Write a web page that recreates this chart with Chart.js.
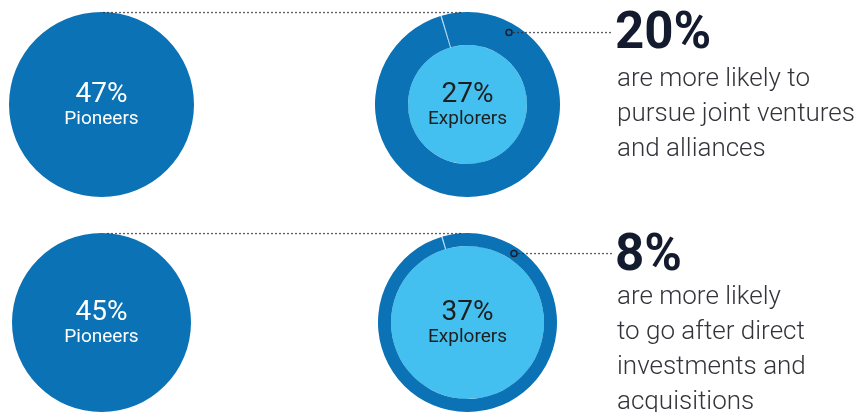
<!DOCTYPE html>
<html>
<head>
<meta charset="utf-8">
<script src="https://cdn.jsdelivr.net/npm/chart.js@4.4.1/dist/chart.umd.min.js"></script>
<style>
  body { margin: 0; background: #fff; width: 863px; height: 412px; overflow: hidden; position: relative; font-family: Roboto, sans-serif; }
  .pie { position: absolute; }
  #notes { position: absolute; left: 0; top: 0; }
</style>
</head>
<body>
<div class="pie" style="left:9px;top:12px"><canvas id="pioneers0" width="185" height="185"></canvas></div>
<div class="pie" style="left:375px;top:12px"><canvas id="explorers0" width="185" height="185"></canvas></div>
<div class="pie" style="left:12px;top:233px"><canvas id="pioneers1" width="179" height="179"></canvas></div>
<div class="pie" style="left:378px;top:233px"><canvas id="explorers1" width="179" height="179"></canvas></div>
<svg id="notes" width="863" height="412"></svg>
<script>
// Parts des deux groupes, ligne par ligne
const groupNames = ['Pioneers', 'Explorers'];
const pioneerShares = [47, 45];
const explorerShares = [27, 37];
const gapTexts = [
    ['are more likely to', 'pursue joint ventures', 'and alliances'],
    ['are more likely', 'to go after direct', 'investments and', 'acquisitions']
];
// petite couture claire dans l'anneau extérieur
const seamShare = [0.22, 0.22];

const darkBlue = '#0b72b5';
const lightBlue = '#43c0ef';
const seamColor = 'rgba(170, 214, 244, 0.85)';

// épaisseur de l'anneau / rayon du disque intérieur, par ligne
const ringWeights = [[33, 59.5], [13, 76.5]];

// Plugin qui écrit le pourcentage et le nom au centre du disque
const centerLabel = {
    id: 'centerLabel',
    afterDraw(chart, args, opts) {
        const { ctx, chartArea } = chart;
        const cx = (chartArea.left + chartArea.right) / 2;
        const cy = (chartArea.top + chartArea.bottom) / 2;
        ctx.save();
        ctx.fillStyle = opts.color;
        ctx.textAlign = 'center';
        ctx.textBaseline = 'alphabetic';
        ctx.font = '400 28px Roboto';
        ctx.fillText(opts.value + '%', cx, cy - 2.5);
        ctx.font = '400 19px Roboto';
        ctx.fillText(opts.name, cx, cy + 19);
        ctx.restore();
    }
};

const baseOptions = {
    responsive: false,
    animation: false,
    events: [],
    layout: { padding: 0 },
    plugins: { legend: { display: false }, tooltip: { enabled: false } }
};

function buildPioneers(i) {
    const ctx = document.getElementById('pioneers' + i).getContext('2d');
    new Chart(ctx, {
        type: 'pie',
        data: {
            labels: [groupNames[0]],
            datasets: [{
                data: [pioneerShares[i]],
                backgroundColor: [darkBlue],
                borderWidth: 0, hoverBorderWidth: 0, offset: 0, hoverOffset: 0
            }]
        },
        options: {
            ...baseOptions,
            plugins: { ...baseOptions.plugins, centerLabel: { value: pioneerShares[i], name: groupNames[0], color: '#ffffff' } }
        },
        plugins: [centerLabel]
    });
}

function buildExplorers(i) {
    const ctx = document.getElementById('explorers' + i).getContext('2d');
    new Chart(ctx, {
        type: 'doughnut',
        data: {
            labels: ['', groupNames[1]],
            datasets: [{
                // anneau extérieur
                data: [seamShare[i], 100 - seamShare[i]],
                backgroundColor: [seamColor, darkBlue],
                weight: ringWeights[i][0],
                borderWidth: 0, hoverBorderWidth: 0, offset: 0, hoverOffset: 0
            }, {
                // disque des Explorers
                data: [explorerShares[i]],
                backgroundColor: [lightBlue],
                weight: ringWeights[i][1],
                borderWidth: 0, hoverBorderWidth: 0, offset: 0, hoverOffset: 0
            }]
        },
        options: {
            ...baseOptions,
            cutout: 0,
            rotation: -17,
            plugins: { ...baseOptions.plugins, centerLabel: { value: explorerShares[i], name: groupNames[1], color: '#1e1e1e' } }
        },
        plugins: [centerLabel]
    });
}

// Lignes pointillées, repères et textes à droite
function buildNotes() {
    const svg = document.getElementById('notes');
    const rowTop = [12.5, 233.5];
    const markers = [[509, 32.5], [514, 253.5]];
    const headBase = [48, 270];
    const firstLine = [86, 303.5];
    const lineStep = 35;
    let out = '';
    for (let i = 0; i < 2; i++) {
        const dots = 'stroke="#2b2b33" stroke-width="1.7" stroke-linecap="round" stroke-dasharray="0 4"';
        out += `<line x1="${104 + i * 4}" y1="${rowTop[i]}" x2="461" y2="${rowTop[i]}" ${dots}/>`;
        out += `<line x1="${markers[i][0] + 5}" y1="${markers[i][1]}" x2="613" y2="${markers[i][1]}" ${dots}/>`;
        out += `<circle cx="${markers[i][0]}" cy="${markers[i][1]}" r="3" fill="none" stroke="#1a1f2e" stroke-width="1.5"/>`;
        const gap = pioneerShares[i] - explorerShares[i];
        out += `<text x="615" y="${headBase[i]}" font-family="Roboto" font-weight="700" font-size="51" fill="#151b2e">${gap}%</text>`;
        gapTexts[i].forEach((t, k) => {
            out += `<text x="617" y="${firstLine[i] + k * lineStep}" font-family="Roboto" font-weight="300" font-size="26" fill="#33333a">${t}</text>`;
        });
    }
    svg.innerHTML = out;
}

for (let i = 0; i < 2; i++) {
    buildPioneers(i);
    buildExplorers(i);
}
buildNotes();
</script>
</body>
</html>
